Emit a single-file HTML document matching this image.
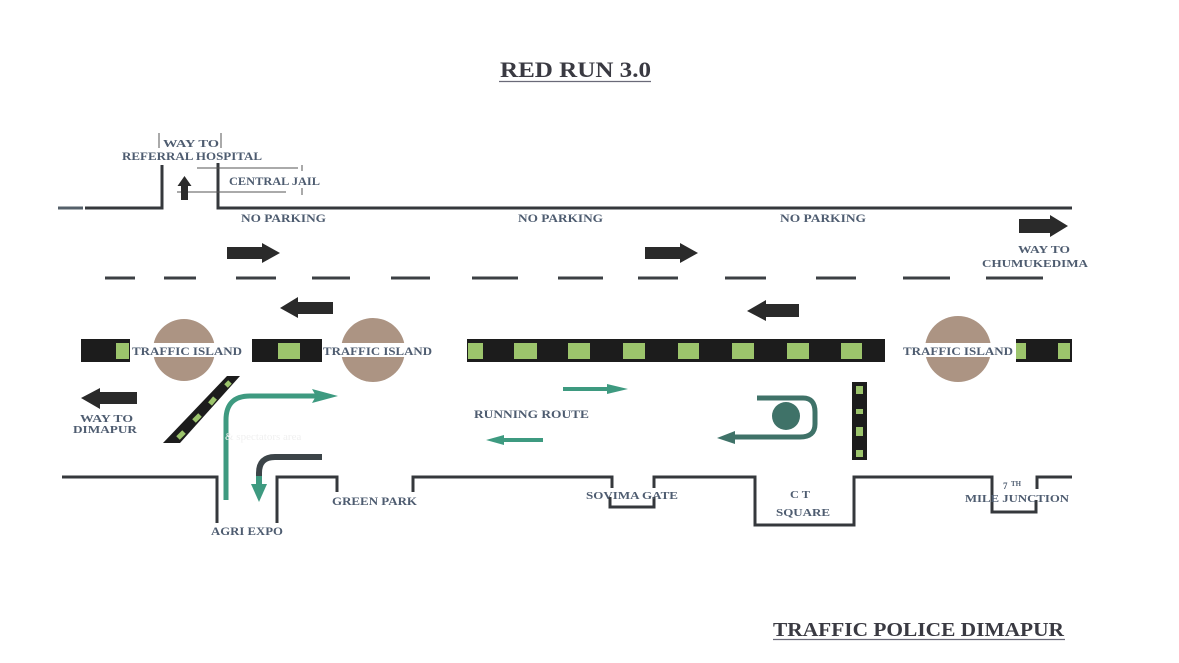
<!DOCTYPE html>
<html><head><meta charset="utf-8"><style>
html,body{margin:0;padding:0;background:#fff;}
svg{display:block;}
text{font-family:"Liberation Serif",serif;font-weight:bold;fill:#4e5c70;}
</style></head><body>
<svg width="1179" height="663" viewBox="0 0 1179 663" xmlns="http://www.w3.org/2000/svg">
<rect width="1179" height="663" fill="#fff"/>

<!-- Titles -->
<text x="500" y="77" font-size="22" textLength="151" lengthAdjust="spacingAndGlyphs" style="fill:#3a3a42">RED RUN 3.0</text>
<line x1="499" y1="81.5" x2="651" y2="81.5" stroke="#6a6a78" stroke-width="1.3"/>
<text x="773" y="636" font-size="20" textLength="291" lengthAdjust="spacingAndGlyphs" style="fill:#3a3a42">TRAFFIC POLICE DIMAPUR</text>
<line x1="773" y1="639.5" x2="1065" y2="639.5" stroke="#6a6a78" stroke-width="1.3"/>

<!-- Top road edge -->
<g stroke="#35383c" stroke-width="3" fill="none" stroke-linecap="butt">
<line x1="58" y1="208" x2="83" y2="208" stroke="#55606a"/>
<polyline points="85,208 162,208 162,165"/>
<polyline points="218,163 218,208 1072,208"/>
</g>
<!-- Central jail lines -->
<g stroke="#555" stroke-width="1">
<line x1="197" y1="168" x2="298" y2="168"/>
<line x1="177" y1="192" x2="286" y2="192"/>
<line x1="302" y1="165" x2="302" y2="171"/>
<line x1="302" y1="188" x2="302" y2="195"/>
<line x1="159" y1="133" x2="159" y2="148"/>
<line x1="221" y1="133" x2="221" y2="148"/>
</g>
<text x="163" y="147" font-size="11" textLength="56" lengthAdjust="spacingAndGlyphs">WAY TO</text>
<text x="122" y="160" font-size="11.5" textLength="140" lengthAdjust="spacingAndGlyphs">REFERRAL HOSPITAL</text>
<text x="229" y="185" font-size="11.5" textLength="91" lengthAdjust="spacingAndGlyphs">CENTRAL JAIL</text>
<!-- up arrow -->
<polygon points="184.5,176 191.5,186 188,186 188,200 181,200 181,186 177.5,186" fill="#2b2b2b"/>

<!-- No parking -->
<text x="241" y="222" font-size="11.5" textLength="85" lengthAdjust="spacingAndGlyphs">NO PARKING</text>
<text x="518" y="222" font-size="11.5" textLength="85" lengthAdjust="spacingAndGlyphs">NO PARKING</text>
<text x="780" y="222" font-size="11.5" textLength="86" lengthAdjust="spacingAndGlyphs">NO PARKING</text>

<!-- black arrows -->
<g fill="#2a2a2a">
<polygon points="227,247 262,247 262,243 280,253 262,263 262,259 227,259"/>
<polygon points="645,247 680,247 680,243 698,253 680,263 680,259 645,259"/>
<polygon points="1019,219 1050,219 1050,215 1068,226 1050,237 1050,233 1019,233"/>
<polygon points="333,302 298,302 298,297 280,308 298,318 298,314 333,314"/>
<polygon points="799,304 766,304 766,300 747,311 766,321 766,317 799,317"/>
<polygon points="137,392 100,392 100,388 81,398 100,409 100,404 137,404"/>
</g>
<text x="1018" y="253" font-size="11" textLength="52" lengthAdjust="spacingAndGlyphs">WAY TO</text>
<text x="982" y="267" font-size="11" textLength="106" lengthAdjust="spacingAndGlyphs">CHUMUKEDIMA</text>
<text x="80" y="422" font-size="11" textLength="53" lengthAdjust="spacingAndGlyphs">WAY TO</text>
<text x="73" y="433" font-size="11" textLength="64" lengthAdjust="spacingAndGlyphs">DIMAPUR</text>

<!-- center dashed line -->
<g stroke="#3c4044" stroke-width="3">
<line x1="105" y1="278" x2="135" y2="278"/>
<line x1="164" y1="278" x2="196" y2="278"/>
<line x1="236" y1="278" x2="276" y2="278"/>
<line x1="312" y1="278" x2="350" y2="278"/>
<line x1="391" y1="278" x2="430" y2="278"/>
<line x1="472" y1="278" x2="518" y2="278"/>
<line x1="558" y1="278" x2="603" y2="278"/>
<line x1="638" y1="278" x2="678" y2="278"/>
<line x1="725" y1="278" x2="766" y2="278"/>
<line x1="816" y1="278" x2="856" y2="278"/>
<line x1="903" y1="278" x2="950" y2="278"/>
<line x1="986" y1="278" x2="1043" y2="278"/>
</g>

<!-- traffic islands -->
<g fill="#ac9483">
<circle cx="184" cy="350" r="31"/>
<circle cx="373" cy="350" r="32"/>
<circle cx="958" cy="349" r="33"/>
</g>

<!-- barriers -->
<g fill="#1c1c1c">
<rect x="81" y="339" width="49" height="23"/>
<rect x="252" y="339" width="70" height="23"/>
<rect x="467" y="339" width="418" height="23"/>
<rect x="1016" y="339" width="56" height="23"/>
<rect x="852" y="382" width="15" height="78"/>
</g>
<g fill="#9cc46c">
<rect x="116" y="343" width="13" height="16"/>
<rect x="278" y="343" width="22" height="16"/>
<rect x="468" y="343" width="15" height="16"/>
<rect x="514" y="343" width="23" height="16"/>
<rect x="568" y="343" width="22" height="16"/>
<rect x="623" y="343" width="22" height="16"/>
<rect x="678" y="343" width="21" height="16"/>
<rect x="732" y="343" width="22" height="16"/>
<rect x="787" y="343" width="22" height="16"/>
<rect x="841" y="343" width="21" height="16"/>
<rect x="1016" y="343" width="10" height="16"/>
<rect x="1058" y="343" width="12" height="16"/>
<rect x="856" y="386" width="7" height="8"/>
<rect x="856" y="409" width="7" height="5"/>
<rect x="856" y="427" width="7" height="9"/>
<rect x="856" y="450" width="7" height="7"/>
</g>
<!-- diagonal barrier -->
<polygon points="227,376 240,376 180,443 163,443" fill="#1c1c1c"/>
<g stroke="#9cc46c" stroke-width="5">
<line x1="230" y1="382" x2="226" y2="386"/>
<line x1="215" y1="398" x2="210" y2="404"/>
<line x1="200" y1="415" x2="194" y2="421"/>
<line x1="184" y1="432" x2="178" y2="438"/>
</g>

<!-- island labels -->
<g fill="#fff">
<rect x="131" y="343" width="112" height="14"/>
<rect x="322" y="343" width="111" height="14"/>
<rect x="902" y="343" width="112" height="14"/>
</g>
<text x="132" y="355" font-size="12" textLength="110" lengthAdjust="spacingAndGlyphs">TRAFFIC ISLAND</text>
<text x="323" y="355" font-size="12" textLength="109" lengthAdjust="spacingAndGlyphs">TRAFFIC ISLAND</text>
<text x="903" y="355" font-size="12" textLength="110" lengthAdjust="spacingAndGlyphs">TRAFFIC ISLAND</text>

<!-- green L arrow -->
<path d="M226,500 L226,420 Q226,396 250,396 L318,396" stroke="#3e9a80" stroke-width="5" fill="none"/>
<polygon points="312,389 338,396 312,403 316,396" fill="#3e9a80"/>
<!-- dark L arrow -->
<path d="M322,457 L275,457 Q259,457 259,473 L259,486" stroke="#3c4448" stroke-width="6" fill="none"/>
<polygon points="251,484 267,484 259,502" fill="#3e9a80"/>
<rect x="256" y="476" width="6" height="9" fill="#3e9a80"/>

<!-- faint text -->
<text x="225" y="440" font-size="11" style="fill:#f0f0f0;font-weight:normal">&amp; spectators area</text>

<!-- running route -->
<text x="474" y="418" font-size="11.5" textLength="115" lengthAdjust="spacingAndGlyphs">RUNNING ROUTE</text>
<line x1="563" y1="389" x2="612" y2="389" stroke="#3e9a80" stroke-width="4"/>
<polygon points="607,384 628,389 607,394" fill="#3e9a80"/>
<line x1="543" y1="440" x2="500" y2="440" stroke="#3e9a80" stroke-width="4"/>
<polygon points="504,435 486,440 504,445" fill="#3e9a80"/>

<!-- U turn -->
<path d="M757,398 L803,398 Q815,398 815,412 L815,424 Q815,437 800,437 L732,437" stroke="#3f7268" stroke-width="5" fill="none"/>
<polygon points="735,431 717,438 735,444" fill="#3f7268"/>
<circle cx="786" cy="416" r="14" fill="#3f7268"/>

<!-- bottom road edge -->
<g stroke="#35383c" stroke-width="3" fill="none">
<polyline points="62,477 217,477 217,523"/>
<polyline points="277,523 277,477 337,477 337,492"/>
<polyline points="413,492 413,477 612,477 612,488"/>
<polyline points="610,497 610,507 654,507 654,497"/>
<polyline points="654,488 654,477 755,477 755,525 854,525 854,477 992,477 992,512 1036,512 1036,500"/>
<polyline points="1037,489 1037,477 1072,477"/>
</g>
<text x="332" y="505" font-size="11.5" textLength="85" lengthAdjust="spacingAndGlyphs">GREEN PARK</text>
<text x="211" y="535" font-size="11.5" textLength="72" lengthAdjust="spacingAndGlyphs">AGRI EXPO</text>
<text x="586" y="499" font-size="11" textLength="92" lengthAdjust="spacingAndGlyphs">SOVIMA GATE</text>
<text x="790" y="498" font-size="11" textLength="20" lengthAdjust="spacingAndGlyphs">C T</text>
<text x="776" y="516" font-size="11" textLength="54" lengthAdjust="spacingAndGlyphs">SQUARE</text>
<text x="1003" y="489" font-size="9" textLength="8">7</text>
<text x="1011" y="486" font-size="7" textLength="10" lengthAdjust="spacingAndGlyphs">TH</text>
<text x="965" y="502" font-size="11" textLength="104" lengthAdjust="spacingAndGlyphs">MILE JUNCTION</text>
</svg>
</body></html>
